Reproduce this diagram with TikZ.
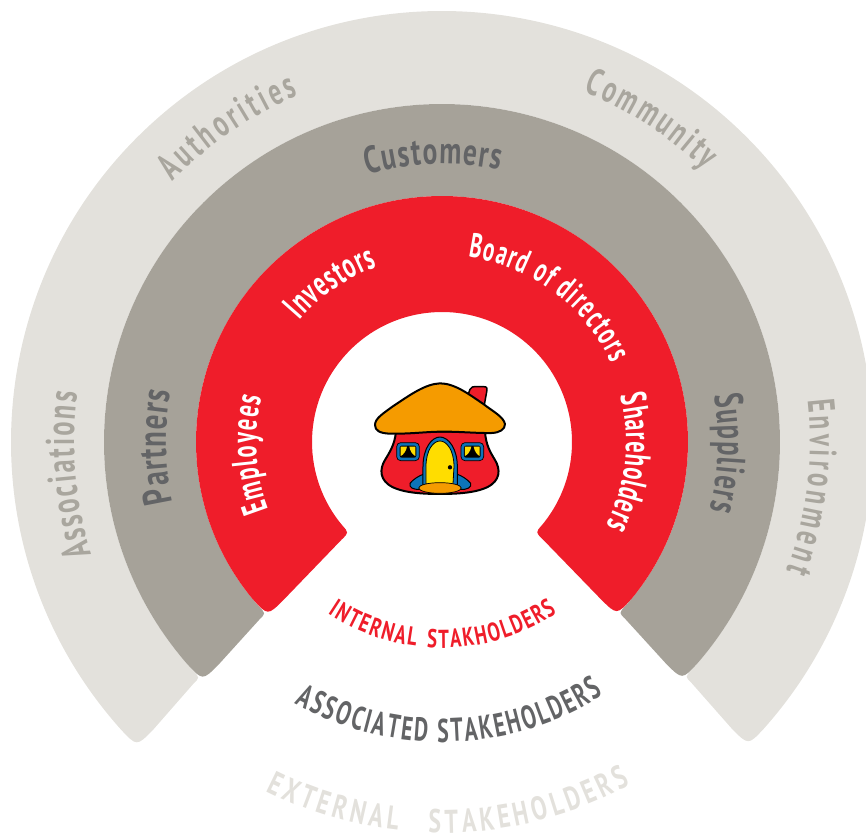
\documentclass[tikz,border=0pt]{standalone}
\usepackage{fontspec}
\usetikzlibrary{decorations.text}
\newfontfamily\lblwide{PT Sans Bold}[FakeStretch=0.72]
\newfontfamily\lblmid{PT Sans Bold}[FakeStretch=0.66]
\newfontfamily\lblnarrow{PT Sans Bold}[FakeStretch=0.62]
\definecolor{ringred}{HTML}{EF1D2A}
\definecolor{ringgrey}{HTML}{A6A299}
\definecolor{ringlight}{HTML}{E3E1DC}
\definecolor{txtdark}{HTML}{636466}
\definecolor{txtmid}{HTML}{A9A69E}
\definecolor{hseorange}{HTML}{F59B00}
\definecolor{hseyellow}{HTML}{FFDD00}
\definecolor{hseblue}{HTML}{0D74BA}
\newcommand{\ringband}[5]{% colour, Ro, Ri, outer fillet, inner fillet
  \pgfmathsetmacro{\angA}{224.2}\pgfmathsetmacro{\angB}{-44.0}
  \pgfmathsetmacro{\angAx}{\angA+0.7}\pgfmathsetmacro{\angBx}{\angB-0.7}
  \pgfmathsetmacro{\delO}{#4/#2*57.3}\pgfmathsetmacro{\delI}{#5/#3*57.3}
  \pgfmathsetmacro{\angAo}{\angAx-\delO}\pgfmathsetmacro{\angBo}{\angBx+\delO}
  \pgfmathsetmacro{\angAi}{\angA-\delI}\pgfmathsetmacro{\angBi}{\angB+\delI}
  \pgfmathsetmacro{\rOe}{#2-#4}\pgfmathsetmacro{\rIe}{#3+#5}
  \fill[#1] (\angA:\rIe) -- (\angAx:\rOe)
    .. controls (\angAx:#2) and (\angAx:#2) .. (\angAo:#2)
    arc[start angle=\angAo,end angle=\angBo,radius=#2]
    .. controls (\angBx:#2) and (\angBx:#2) .. (\angBx:\rOe)
    -- (\angB:\rIe)
    .. controls (\angB:#3) and (\angB:#3) .. (\angBi:#3)
    arc[start angle=\angBi,end angle=\angAi,radius=#3]
    .. controls (\angA:#3) and (\angA:#3) .. (\angA:\rIe) -- cycle;
}
\newcommand{\arclabel}[7]{% family, size, colour, r, a1, a2, text
  \path[decorate,decoration={text along path,text align={fit to path},
    text={|#1\fontsize{#2}{#2}\selectfont\color{#3}|#7}}]
    (#5:#4) arc[start angle=#5,end angle=#6,radius=#4];
}
\newcommand{\hsewindow}[1]{%
  \begin{scope}[xshift=#1*0.3333pt]
    \filldraw[fill=hseblue,draw=black,line width=0.7pt,rounded corners=4pt] (110,218) rectangle (178,272);
    \fill[black,rounded corners=2pt] (119,227) rectangle (169,263);
    \fill[hseyellow] (122,230) -- (141,230) .. controls (138,245) and (130,254) .. (122,258) -- cycle;
    \fill[hseyellow] (166,230) -- (148,230) .. controls (151,245) and (158,254) .. (166,258) -- cycle;
  \end{scope}
}
\begin{document}
\begin{tikzpicture}[x=1pt,y=1pt]
\useasboundingbox (-442,-394) rectangle (424,442);
\ringband{ringlight}{431}{338}{22}{9}
\ringband{ringgrey}{338}{246}{22}{9}
\ringband{ringred}{246}{130}{22}{10}
% ring labels
\arclabel{\lblmid}{40}{txtmid}{368}{197.8}{172.3}{Associations}
\arclabel{\lblmid}{38}{txtmid}{375}{136}{112.5}{Authorities}
\arclabel{\lblmid}{38}{txtmid}{378}{68}{46}{Community}
\arclabel{\lblmid}{38}{txtmid}{368}{6.5}{-20.4}{Environment}
\arclabel{\lblwide}{40}{txtdark}{276}{192.6}{169.5}{Partners}
\arclabel{\lblwide}{38}{txtdark}{278}{105.5}{78}{Customers}
\arclabel{\lblmid}{40}{txtdark}{276}{9.8}{-14.3}{Suppliers}
\arclabel{\lblnarrow}{36}{white}{186}{201.3}{166}{Employees}
\arclabel{\lblnarrow}{36}{white}{187}{139.5}{110.4}{Investors}
\arclabel{\lblnarrow}{34}{white}{187}{82}{25}{Board of directors}
\arclabel{\lblnarrow}{36}{white}{184}{14.5}{-27}{Shareholders}
% bottom captions
\arclabel{\lblwide}{26}{ringred}{206}{236.3}{262.7}{INTERNAL}
\arclabel{\lblwide}{26}{ringred}{206}{265.8}{303.9}{STAKHOLDERS}
\arclabel{\lblmid}{33}{txtdark}{300}{240.6}{302.6}{ASSOCIATED STAKEHOLDERS}
\arclabel{\lblwide}{33}{ringlight}{391}{243.2}{263.5}{EXTERNAL}
\arclabel{\lblwide}{33}{ringlight}{391}{268}{298.8}{STAKEHOLDERS}
% house
\begin{scope}[xshift=-82pt,yshift=72pt,x=0.3333pt,y=-0.3333pt,line join=round]
  \filldraw[fill=ringred,draw=black,line width=1.5pt] (325,72) -- (330,58) .. controls (332,50) and (340,50) .. (350,50) -- (372,50) .. controls (382,50) and (382,56) .. (380,66) -- (372,110) -- cycle;
  \filldraw[fill=ringred,draw=black,line width=2pt] (108,185) .. controls (104,225) and (88,248) .. (75,270)
    .. controls (58,298) and (58,332) .. (99,352) .. controls (125,364) and (165,372) .. (240,372)
    .. controls (315,372) and (355,364) .. (381,352)
    .. controls (422,332) and (422,298) .. (405,270)
    .. controls (390,245) and (378,225) .. (375,185) -- cycle;
  % windows
  \hsewindow{0}
  \hsewindow{193}
  % porch and door
  \filldraw[fill=hseblue,draw=black,line width=1pt] (192,312) .. controls (175,318) and (160,328) .. (150,340)
    .. controls (146,352) and (160,360) .. (180,358) -- (300,358) .. controls (322,360) and (336,352) .. (332,340)
    .. controls (322,328) and (307,318) .. (290,312) -- cycle;
  \fill[hseblue,draw=black,line width=1pt] (189,345) -- (189,290) .. controls (189,235) and (215,201) .. (240,201)
    .. controls (265,201) and (292,235) .. (292,290) -- (292,345) -- cycle;
  \filldraw[fill=hseyellow,draw=black,line width=0.8pt] (198,342) -- (198,290) .. controls (198,240) and (220,213) .. (240,213)
    .. controls (260,213) and (282,240) .. (282,290) -- (279,342) -- cycle;
  \fill[black] (270,292) circle[radius=6.5];
  \filldraw[fill=hseorange,draw=black,line width=0.7pt] (240,354) ellipse[x radius=64,y radius=16];
  % roof
  \filldraw[fill=hseorange,draw=black,line width=2pt] (240,40) .. controls (195,42) and (150,75) .. (100,108)
    .. controls (70,130) and (45,145) .. (45,165) .. controls (45,182) and (60,190) .. (90,191)
    .. controls (150,192) and (190,186) .. (240,185) .. controls (290,184) and (350,190) .. (395,189)
    .. controls (420,188) and (435,178) .. (435,162) .. controls (430,140) and (400,125) .. (370,102)
    .. controls (330,75) and (285,40) .. (240,40) -- cycle;
\end{scope}
\end{tikzpicture}
\end{document}
